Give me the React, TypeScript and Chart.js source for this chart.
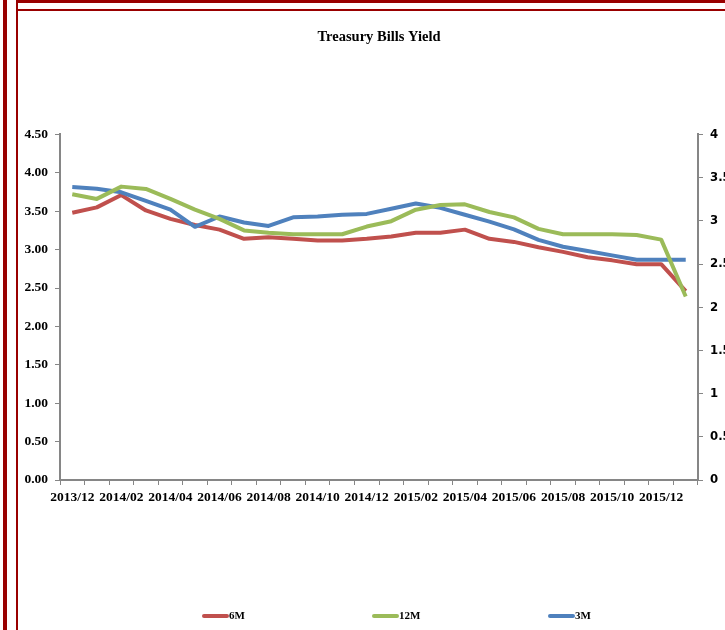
import React, { useEffect, useRef } from 'react';
import { Chart, registerables } from 'chart.js';

Chart.register(...registerables);

const months = [
  '2013/12', '2014/01', '2014/02', '2014/03', '2014/04', '2014/05', '2014/06',
  '2014/07', '2014/08', '2014/09', '2014/10', '2014/11', '2014/12', '2015/01',
  '2015/02', '2015/03', '2015/04', '2015/05', '2015/06', '2015/07', '2015/08',
  '2015/09', '2015/10', '2015/11', '2015/12', '2016/01',
];

// left axis (0 - 4.50)
const sixM = [
  3.48, 3.55, 3.71, 3.51, 3.40, 3.32, 3.26, 3.14, 3.16, 3.14, 3.12, 3.12, 3.14,
  3.17, 3.22, 3.22, 3.26, 3.14, 3.10, 3.03, 2.97, 2.90, 2.86, 2.81, 2.81, 2.46,
];
const twelveM = [
  3.72, 3.66, 3.82, 3.79, 3.66, 3.52, 3.40, 3.25, 3.22, 3.20, 3.20, 3.20, 3.30,
  3.37, 3.52, 3.58, 3.59, 3.49, 3.42, 3.27, 3.20, 3.20, 3.20, 3.19, 3.13, 2.39,
];
// right axis (0 - 4)
const threeM = [
  3.39, 3.37, 3.33, 3.23, 3.13, 2.93, 3.05, 2.98, 2.94, 3.04, 3.05, 3.07, 3.08,
  3.14, 3.20, 3.15, 3.07, 2.99, 2.90, 2.78, 2.70, 2.65, 2.60, 2.55, 2.55, 2.55,
];

const seriesNames = ['6M', '12M', '3M'];
const RED = '#C0504D';
const GREEN = '#9BBB59';
const BLUE = '#4F81BD';
const AXIS = '#868686';
const FRAME = '#990000';

const CW = 707;
const CH = 618;

const legendPlugin = {
  id: 'spreadLegend',
  afterDraw(chart: any) {
    const ctx = chart.ctx;
    const items = [
      { label: seriesNames[0], color: RED, x: 184 },
      { label: seriesNames[1], color: GREEN, x: 354 },
      { label: seriesNames[2], color: BLUE, x: 530 },
    ];
    const y = 604;
    ctx.save();
    items.forEach((it) => {
      ctx.strokeStyle = it.color;
      ctx.lineWidth = 4;
      ctx.lineCap = 'round';
      ctx.beginPath();
      ctx.moveTo(it.x + 2, y);
      ctx.lineTo(it.x + 25, y);
      ctx.stroke();
      ctx.fillStyle = '#000';
      ctx.font = 'bold 11px "Liberation Serif", serif';
      ctx.textBaseline = 'middle';
      ctx.textAlign = 'left';
      ctx.fillText(it.label, it.x + 27, y + 0.5);
    });
    ctx.restore();
  },
};

export default function App() {
  const ref = useRef<HTMLCanvasElement | null>(null);

  useEffect(() => {
    if (!ref.current) return;
    const serif = '"Liberation Serif", "Times New Roman", serif';
    const chart = new Chart(ref.current, {
      type: 'line',
      data: {
        labels: months,
        datasets: [
          {
            label: seriesNames[0],
            data: sixM,
            borderColor: RED,
            backgroundColor: RED,
            borderWidth: 4,
            pointRadius: 0,
            tension: 0,
            borderJoinStyle: 'round',
            yAxisID: 'y',
            order: 2,
          },
          {
            label: seriesNames[1],
            data: twelveM,
            borderColor: GREEN,
            backgroundColor: GREEN,
            borderWidth: 4,
            pointRadius: 0,
            tension: 0,
            borderJoinStyle: 'round',
            yAxisID: 'y',
            order: 0,
          },
          {
            label: seriesNames[2],
            data: threeM,
            borderColor: BLUE,
            backgroundColor: BLUE,
            borderWidth: 4,
            pointRadius: 0,
            tension: 0,
            borderJoinStyle: 'round',
            yAxisID: 'y1',
            order: 1,
          },
        ],
      },
      options: {
        responsive: false,
        animation: false,
        layout: { padding: 0 },
        plugins: {
          legend: { display: false },
          tooltip: { enabled: false },
          title: {
            display: true,
            fullSize: false,
            text: 'Treasury Bills Yield',
            color: '#000',
            font: { family: serif, size: 14.5, weight: 'bold' },
            padding: { top: 17, bottom: 88 },
          },
        },
        scales: {
          x: {
            type: 'category',
            offset: true,
            grid: {
              display: true,
              offset: true,
              drawOnChartArea: false,
              drawTicks: true,
              tickLength: 5,
              color: AXIS,
              lineWidth: 1,
            },
            border: { display: true, color: AXIS, width: 2 },
            ticks: {
              autoSkip: false,
              maxRotation: 0,
              minRotation: 0,
              padding: 4,
              color: '#000',
              font: { family: serif, size: 13.5, weight: 'bold' },
              callback: (_v: any, i: number) => (i % 2 === 0 ? months[i] : ''),
            },
            afterFit: (s: any) => {
              s.height = 150;
            },
          },
          y: {
            position: 'left',
            min: 0,
            max: 4.5,
            grid: {
              display: true,
              drawOnChartArea: false,
              drawTicks: true,
              tickLength: 5,
              color: AXIS,
              lineWidth: 1,
            },
            border: { display: true, color: AXIS, width: 2 },
            ticks: {
              stepSize: 0.5,
              padding: 7,
              color: '#000',
              font: { family: serif, size: 13.5, weight: 'bold' },
              callback: (v: any) => Number(v).toFixed(2),
            },
            afterFit: (s: any) => {
              s.width = 42;
            },
          },
          y1: {
            position: 'right',
            min: 0,
            max: 4,
            grid: {
              display: true,
              drawOnChartArea: false,
              drawTicks: true,
              tickLength: 5,
              color: AXIS,
              lineWidth: 1,
            },
            border: { display: true, color: AXIS, width: 2 },
            ticks: {
              stepSize: 0.5,
              padding: 7,
              color: '#000',
              font: { family: '"DejaVu Sans Condensed", "Liberation Sans", sans-serif', size: 13, weight: 'bold' },
              callback: (v: any) => String(Number(v)),
            },
            afterFit: (s: any) => {
              s.width = 27;
            },
          },
        },
      },
      plugins: [legendPlugin],
    } as any);
    return () => chart.destroy();
  }, []);

  const bar = (style: React.CSSProperties) => (
    <div style={{ position: 'absolute', background: FRAME, ...style }} />
  );

  return (
    <div
      style={{
        position: 'absolute',
        left: 0,
        top: 0,
        width: 725,
        height: 630,
        overflow: 'hidden',
        background: '#fff',
      }}
    >
      {bar({ left: 3, top: 0, width: 4, height: 630 })}
      {bar({ left: 16, top: 0, width: 2, height: 630 })}
      {bar({ left: 16, top: 0, width: 709, height: 3 })}
      {bar({ left: 16, top: 9, width: 709, height: 2 })}
      <canvas
        ref={ref}
        width={CW}
        height={CH}
        style={{ position: 'absolute', left: 18, top: 12, width: CW, height: CH, display: 'block' }}
      />
    </div>
  );
}
